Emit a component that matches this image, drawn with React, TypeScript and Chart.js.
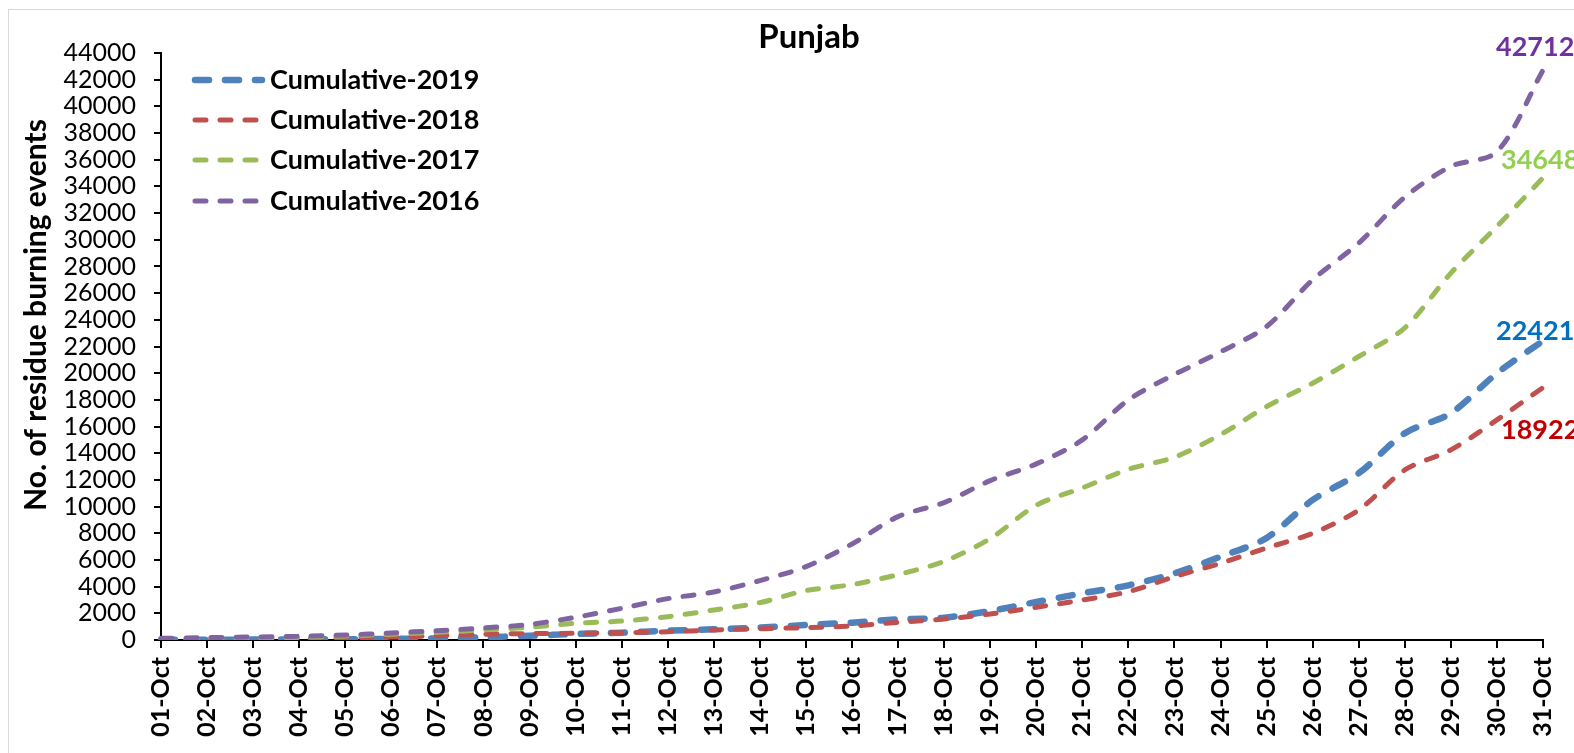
import { useEffect, useRef } from 'react';
import { Chart, registerables } from 'chart.js';

Chart.register(...registerables);

const categories = [
  '01-Oct', '02-Oct', '03-Oct', '04-Oct', '05-Oct', '06-Oct', '07-Oct', '08-Oct', '09-Oct', '10-Oct',
  '11-Oct', '12-Oct', '13-Oct', '14-Oct', '15-Oct', '16-Oct', '17-Oct', '18-Oct', '19-Oct', '20-Oct',
  '21-Oct', '22-Oct', '23-Oct', '24-Oct', '25-Oct', '26-Oct', '27-Oct', '28-Oct', '29-Oct', '30-Oct', '31-Oct',
];

const cumulative2019 = [
  15, 20, 30, 45, 60, 80, 120, 200, 320, 450,
  550, 700, 800, 925, 1125, 1300, 1550, 1670, 2175, 2850,
  3500, 4100, 5000, 6250, 7650, 10500, 12500, 15500, 17000, 20000, 22421,
];
const cumulative2018 = [
  20, 40, 70, 110, 170, 220, 320, 430, 475, 500,
  550, 620, 750, 850, 925, 1050, 1325, 1575, 1950, 2450,
  3000, 3620, 4750, 5750, 6900, 8000, 9750, 12750, 14250, 16500, 18922,
];
const cumulative2017 = [
  50, 100, 150, 200, 300, 425, 575, 750, 950, 1250,
  1420, 1750, 2250, 2800, 3700, 4150, 4900, 5900, 7600, 10100,
  11400, 12800, 13700, 15400, 17500, 19250, 21250, 23400, 27500, 31000, 34648,
];
const cumulative2016 = [
  125, 175, 225, 275, 375, 525, 700, 900, 1170, 1700,
  2375, 3100, 3600, 4450, 5500, 7200, 9250, 10300, 11950, 13200,
  15000, 18000, 19900, 21600, 23500, 27000, 29750, 33200, 35500, 36600, 42712,
];

const seriesNames = ['Cumulative-2019', 'Cumulative-2018', 'Cumulative-2017', 'Cumulative-2016'];
const seriesData = [cumulative2019, cumulative2018, cumulative2017, cumulative2016];
const lineColors = ['#4f81bd', '#c0504d', '#9bbb59', '#8064a2'];
const endLabelColors = ['#0070c0', '#c00000', '#92d050', '#7030a0'];
const endLabelTexts = ['22421', '18922', '34648', '42712'];

const yMin = 0;
const yMax = 44000;
const yStep = 2000;

const titleText = 'Punjab';
const yTitleText = 'No. of residue burning events';

const FONT = 'Lato, "Open Sans", sans-serif';

const widths = [6.5, 5, 5, 5];
const dashes = [[14, 16], [11, 14], [11, 14], [11, 14]];
const endLabelOffsets = [
  { dx: -47, dy: -10 },
  { dx: -42, dy: 43 },
  { dx: -42, dy: -17 },
  { dx: -47, dy: -23 },
];

const overlayPlugin = {
  id: 'overlay',
  afterDraw(chart: any) {
    const ctx = chart.ctx as CanvasRenderingContext2D;
    ctx.save();
    // title
    ctx.fillStyle = '#000';
    ctx.font = `bold 33px ${FONT}`;
    ctx.textAlign = 'center';
    ctx.textBaseline = 'middle';
    ctx.fillText(titleText, 809, 37);

    // y axis title
    ctx.save();
    ctx.translate(36, 315);
    ctx.rotate(-Math.PI / 2);
    ctx.font = `bold 30px ${FONT}`;
    ctx.textAlign = 'center';
    ctx.textBaseline = 'middle';
    ctx.fillText(yTitleText, 0, 0);
    ctx.restore();

    // legend
    const rows = [80, 120, 160, 201];
    for (let i = 0; i < seriesNames.length; i++) {
      const y = rows[i];
      ctx.save();
      ctx.strokeStyle = lineColors[i];
      ctx.lineWidth = widths[i];
      ctx.lineCap = 'round';
      ctx.setLineDash(dashes[i]);
      ctx.beginPath();
      ctx.moveTo(195, y);
      ctx.lineTo(262, y);
      ctx.stroke();
      ctx.restore();
      ctx.fillStyle = '#000';
      ctx.font = `bold 27px ${FONT}`;
      ctx.textAlign = 'left';
      ctx.textBaseline = 'middle';
      ctx.fillText(seriesNames[i], 270, y);
    }

    // end labels
    for (let i = 0; i < seriesNames.length; i++) {
      const meta = chart.getDatasetMeta(i);
      const pt = meta.data[meta.data.length - 1];
      if (!pt) continue;
      ctx.fillStyle = endLabelColors[i];
      ctx.font = `bold 27px ${FONT}`;
      ctx.textAlign = 'left';
      ctx.textBaseline = 'middle';
      ctx.fillText(endLabelTexts[i], pt.x + endLabelOffsets[i].dx, pt.y + endLabelOffsets[i].dy);
    }
    ctx.restore();
  },
};

export default function App() {
  const ref = useRef<HTMLCanvasElement>(null);
  useEffect(() => {
    if (!ref.current) return;
    const chart = new Chart(ref.current, {
      type: 'line',
      data: {
        labels: categories,
        datasets: seriesNames.map((name, i) => ({
          label: name,
          data: seriesData[i],
          borderColor: lineColors[i],
          backgroundColor: lineColors[i],
          borderWidth: widths[i],
          borderDash: dashes[i],
          borderCapStyle: 'round' as const,
          pointRadius: 0,
          tension: 0.3,
          fill: false,
          order: 4 - i,
        })),
      },
      options: {
        responsive: false,
        animation: false,
        layout: { padding: { top: 53, right: 31, left: 0, bottom: 0 } },
        plugins: {
          legend: { display: false },
          tooltip: { enabled: false },
          title: { display: false },
        },
        scales: {
          x: {
            type: 'category',
            offset: false,
            grid: {
              display: true,
              drawOnChartArea: false,
              drawTicks: true,
              tickLength: 8,
              color: '#000',
              lineWidth: 2,
            },
            border: { display: true, color: '#000', width: 2 },
            ticks: {
              maxRotation: 90,
              minRotation: 90,
              autoSkip: false,
              color: '#000',
              padding: 9,
              font: { family: FONT, size: 25, weight: 'bold' },
            },
            afterFit: (scale: any) => {
              scale.height = 113;
              scale.paddingRight = 0;
              scale.paddingLeft = 0;
            },
          },
          y: {
            min: yMin,
            max: yMax,
            grid: {
              display: true,
              drawOnChartArea: false,
              drawTicks: true,
              tickLength: 7,
              color: '#000',
              lineWidth: 2,
            },
            border: { display: true, color: '#000', width: 2 },
            ticks: {
              stepSize: yStep,
              autoSkip: false,
              color: '#000',
              padding: 18,
              font: { family: FONT, size: 25 },
              callback: (v: any) => String(v),
            },
            afterFit: (scale: any) => {
              scale.width = 161;
              scale.paddingTop = 0;
              scale.paddingBottom = 0;
            },
          },
        },
      },
      plugins: [overlayPlugin],
    });
    return () => chart.destroy();
  }, []);

  return (
    <div
      style={{
        position: 'fixed',
        left: 0,
        top: 0,
        width: 1574,
        height: 753,
        overflow: 'hidden',
        background: '#fff',
      }}
    >
      <div
        style={{
          position: 'absolute',
          left: 8,
          top: 9,
          width: 1700,
          height: 900,
          border: '1px solid #d9d9d9',
        }}
      />
      <canvas ref={ref} width={1574} height={753} style={{ position: 'absolute', left: 0, top: 0 }} />
    </div>
  );
}
